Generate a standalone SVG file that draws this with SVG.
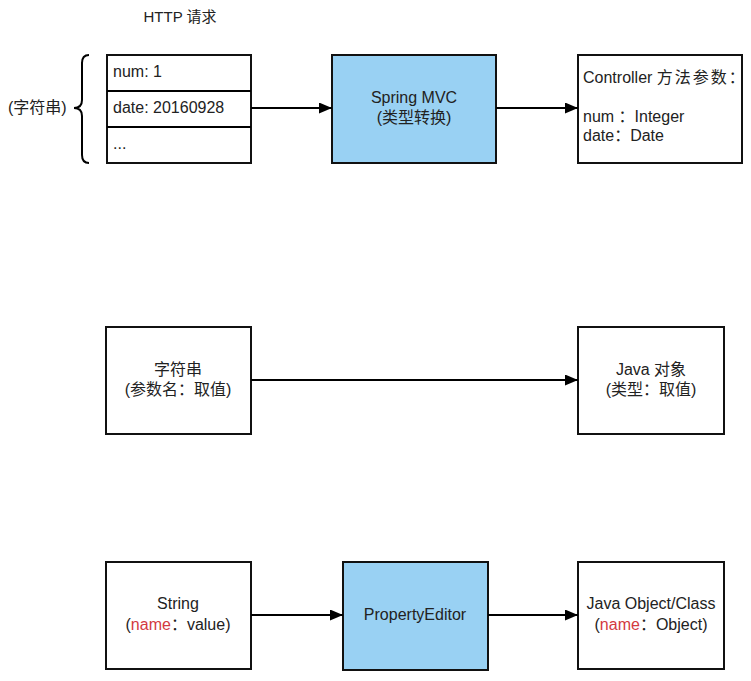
<svg xmlns="http://www.w3.org/2000/svg" width="751" height="681" viewBox="0 0 751 681">
<style>
text{font-family:"Liberation Sans","Noto Sans CJK SC",sans-serif;font-size:16px;fill:#222}
.box{fill:#fff;stroke:#111;stroke-width:2}
.blue{fill:#99d1f3;stroke:#111;stroke-width:2}
.edge{stroke:#000;stroke-width:2;fill:none}
.c{text-anchor:middle}
.red{fill:#d33a3f}
</style>
<defs>
<marker id="ah" markerWidth="14" markerHeight="11" refX="13" refY="5.5" orient="auto" markerUnits="userSpaceOnUse">
<path d="M0,0 L13,5.5 L0,11 Z" fill="#000"/>
</marker>
</defs>
<rect width="751" height="681" fill="#fff"/>

<g id="title"><text x="180" y="22" class="c" style="font-size:15px">HTTP 请求</text></g>

<g id="brace">
<path d="M89,55 Q82,55 82,63 L82,100 Q82,108 74,108 Q82,108 82,116 L82,155 Q82,163 89,163" class="edge"/>
<text x="8" y="113">(字符串)</text>
</g>

<g id="http-request">
<rect x="107" y="55" width="144" height="108" class="box"/>
<line x1="107" y1="91" x2="251" y2="91" class="edge"/>
<line x1="107" y1="127" x2="251" y2="127" class="edge"/>
<text x="113" y="77">num: 1</text>
<text x="113" y="113">date: 20160928</text>
<text x="113" y="149">...</text>
</g>

<g id="spring-mvc">
<rect x="332" y="55" width="164" height="108" class="blue"/>
<text x="414" y="103" class="c">Spring MVC</text>
<text x="414" y="123" class="c">(类型转换)</text>
</g>

<g id="controller">
<rect x="578" y="55" width="164" height="108" class="box"/>
<text x="583" y="83">Controller <tspan letter-spacing="2">方法参数：</tspan></text>
<text x="583" y="122">num ：Integer</text>
<text x="583" y="141">date：Date</text>
</g>

<g id="string-node">
<rect x="106" y="327" width="145" height="107" class="box"/>
<text x="178" y="375" class="c">字符串</text>
<text x="178" y="395" class="c">(参数名：取值)</text>
</g>

<g id="java-object-node">
<rect x="578" y="327" width="146" height="107" class="box"/>
<text x="651" y="375" class="c">Java 对象</text>
<text x="651" y="395" class="c">(类型：取值)</text>
</g>

<g id="string-value">
<rect x="106" y="562" width="145" height="107" class="box"/>
<text x="178" y="609" class="c">String</text>
<text x="178" y="630" class="c">(<tspan class="red">name</tspan>：value)</text>
</g>

<g id="property-editor">
<rect x="343" y="562" width="145" height="108" class="blue"/>
<text x="415" y="620" class="c">PropertyEditor</text>
</g>

<g id="java-object-class">
<rect x="578" y="562" width="146" height="107" class="box"/>
<text x="651" y="609" class="c">Java Object/Class</text>
<text x="651" y="630" class="c">(<tspan class="red">name</tspan>：Object)</text>
</g>

<g id="connectors">
<line x1="251" y1="108" x2="332" y2="108" class="edge" marker-end="url(#ah)"/>
<line x1="496" y1="108" x2="578" y2="108" class="edge" marker-end="url(#ah)"/>
<line x1="251" y1="380" x2="578" y2="380" class="edge" marker-end="url(#ah)"/>
<line x1="251" y1="615" x2="343" y2="615" class="edge" marker-end="url(#ah)"/>
<line x1="488" y1="615" x2="578" y2="615" class="edge" marker-end="url(#ah)"/>
</g>
</svg>
